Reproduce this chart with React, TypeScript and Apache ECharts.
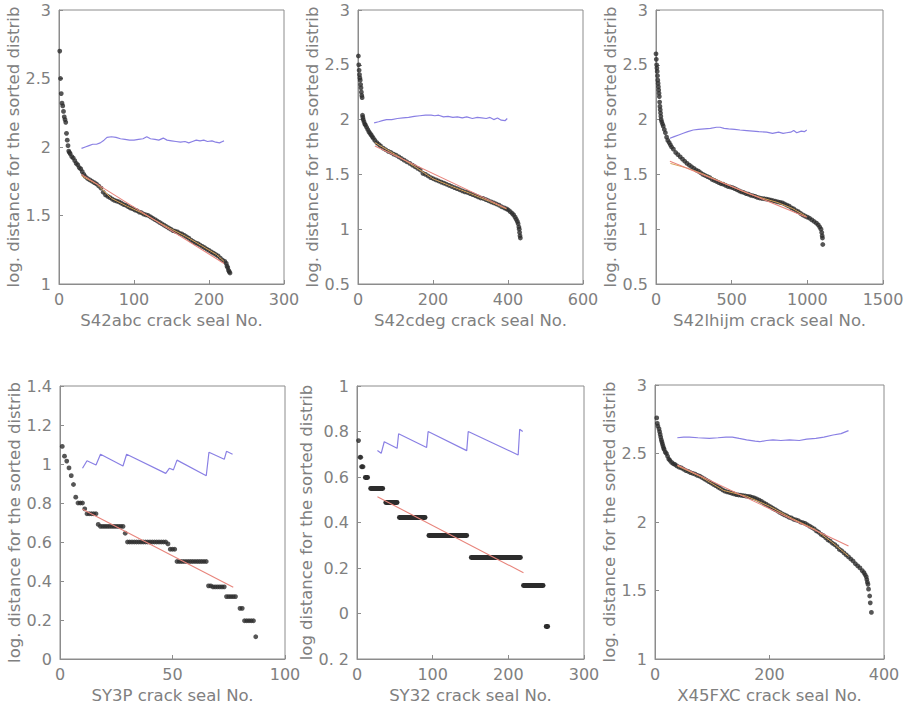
import React, { useEffect, useRef } from "react";
import * as echarts from "echarts";

const X_NAMES = [
  "S42abc crack seal No.",
  "S42cdeg crack seal No.",
  "S42lhijm crack seal No.",
  "SY3P crack seal No.",
  "SY32 crack seal No.",
  "X45FXC crack seal No.",
];
const Y_NAMES = [
  "log. distance for the sorted distrib",
  "log. distance for the sorted distrib",
  "log. distance for the sorted distrib",
  "log. distance for the sorted distrib",
  "log distance for the sorted distrib",
  "log. distance for the sorted distrib",
];
const X_MAX = [300, 600, 1500, 100, 300, 400];
const X_INTERVAL = [100, 200, 500, 50, 100, 200];
const Y_MIN = [1, 0.5, 0.5, 0, -0.2, 1];
const Y_MAX = [3, 3, 3, 1.4, 1, 3];
const Y_INTERVAL = [0.5, 0.5, 0.5, 0.2, 0.2, 0.5];

// Panel 1: S42abc
const P1_DOTS = [
  [1, 2.7], [2, 2.5], [3, 2.39], [4, 2.32], [5, 2.3], [6, 2.26], [7, 2.22], [8, 2.2], [9, 2.18],
  [10, 2.1], [11, 2.05], [12, 2.01], [13, 1.97], [14, 1.96], [15, 1.95], [17, 1.93], [19, 1.92],
  [21, 1.9], [23, 1.88], [25, 1.87], [27, 1.85], [29, 1.84], [31, 1.82], [33, 1.8], [35, 1.785],
  [38, 1.77], [41, 1.76], [44, 1.75], [47, 1.74], [50, 1.73], [53, 1.715], [56, 1.7], [59, 1.67],
  [62, 1.65], [65, 1.64], [68, 1.63], [71, 1.62], [74, 1.61], [77, 1.605], [80, 1.6], [83, 1.59],
  [86, 1.58], [89, 1.575], [92, 1.565], [95, 1.555], [98, 1.55], [101, 1.54], [104, 1.535],
  [107, 1.525], [110, 1.52], [113, 1.51], [116, 1.505], [119, 1.5], [122, 1.49], [125, 1.48],
  [128, 1.47], [131, 1.46], [134, 1.45], [137, 1.44], [140, 1.43], [143, 1.42], [146, 1.41],
  [149, 1.4], [152, 1.39], [155, 1.385], [158, 1.38], [161, 1.37], [164, 1.365], [167, 1.355],
  [170, 1.345], [173, 1.335], [176, 1.32], [179, 1.31], [182, 1.3], [185, 1.295], [188, 1.285],
  [191, 1.275], [194, 1.265], [197, 1.255], [200, 1.245], [203, 1.235], [206, 1.225], [209, 1.215],
  [212, 1.205], [215, 1.19], [218, 1.175], [221, 1.165], [223, 1.15], [224, 1.13], [225, 1.12],
  [226, 1.1], [227, 1.09], [228, 1.08],
];
const P1_FIT = [[30, 1.8], [220, 1.15]];
const P1_SMOOTH = [
  [30, 1.79], [50, 1.73], [70, 1.625], [90, 1.57], [110, 1.52], [130, 1.46], [150, 1.4],
  [170, 1.345], [190, 1.28], [210, 1.215], [220, 1.165],
];
const P1_TREND = [
  [30, 1.99], [35, 2.0], [40, 2.01], [45, 2.02], [50, 2.02], [55, 2.03], [60, 2.05], [64, 2.07],
  [70, 2.075], [76, 2.07], [82, 2.06], [88, 2.055], [94, 2.05], [100, 2.05], [106, 2.055],
  [112, 2.06], [117, 2.075], [122, 2.06], [128, 2.055], [133, 2.05], [139, 2.065], [144, 2.05],
  [150, 2.045], [156, 2.04], [162, 2.035], [168, 2.04], [173, 2.03], [178, 2.04], [183, 2.05],
  [188, 2.045], [193, 2.05], [198, 2.04], [204, 2.045], [209, 2.035], [214, 2.03], [218, 2.04],
  [220, 2.045],
];

// Panel 2: S42cdeg
const P2_DOTS = [
  [1, 2.58], [2, 2.5], [3, 2.45], [4, 2.41], [5, 2.38], [6, 2.36], [7, 2.32], [8, 2.29], [9, 2.25],
  [10, 2.22], [11, 2.2], [12, 2.04], [13, 2.02], [14, 2.0], [16, 1.98], [18, 1.96], [20, 1.95],
  [23, 1.93], [26, 1.91], [29, 1.89], [32, 1.875], [35, 1.86], [38, 1.845], [41, 1.83], [45, 1.81],
  [50, 1.79], [55, 1.775], [60, 1.76], [67, 1.74], [74, 1.725], [81, 1.71], [88, 1.7], [95, 1.685],
  [102, 1.675], [109, 1.66], [116, 1.645], [123, 1.63], [130, 1.615], [138, 1.6], [145, 1.585],
  [152, 1.57], [159, 1.555], [166, 1.54], [173, 1.51], [180, 1.5], [187, 1.485], [194, 1.47],
  [201, 1.46], [208, 1.45], [215, 1.44], [222, 1.43], [229, 1.42], [236, 1.41], [243, 1.4],
  [250, 1.39], [257, 1.38], [264, 1.37], [271, 1.36], [278, 1.35], [285, 1.34], [292, 1.335],
  [299, 1.325], [306, 1.315], [313, 1.305], [320, 1.295], [327, 1.285], [334, 1.28], [341, 1.27],
  [348, 1.26], [355, 1.25], [362, 1.24], [369, 1.23], [376, 1.22], [383, 1.205], [390, 1.195],
  [396, 1.185], [401, 1.175], [406, 1.16], [411, 1.145], [415, 1.13], [419, 1.11], [422, 1.09],
  [425, 1.07], [427, 1.05], [429, 1.02], [430, 1.0], [431, 0.97], [432, 0.94], [433, 0.92],
];
const P2_FIT = [[45, 1.76], [396, 1.19]];
const P2_SMOOTH = [
  [45, 1.79], [100, 1.68], [150, 1.575], [200, 1.46], [250, 1.39], [300, 1.325], [350, 1.255],
  [396, 1.185],
];
const P2_TREND = [
  [43, 1.97], [55, 1.98], [65, 1.99], [76, 2.0], [90, 2.0], [105, 2.01], [120, 2.015], [135, 2.02],
  [150, 2.03], [165, 2.035], [180, 2.04], [195, 2.04], [205, 2.035], [215, 2.04], [228, 2.025],
  [240, 2.03], [253, 2.02], [265, 2.025], [278, 2.015], [290, 2.025], [305, 2.01], [318, 2.02],
  [330, 2.015], [342, 2.01], [352, 2.02], [362, 2.0], [372, 2.015], [382, 1.995], [392, 1.99],
  [398, 2.01],
];

// Panel 3: S42lhijm
const P3_DOTS = [
  [0, 2.6], [2, 2.55], [4, 2.5], [6, 2.47], [8, 2.44], [10, 2.4], [12, 2.36], [14, 2.33], [16, 2.3],
  [18, 2.27], [20, 2.24], [22, 2.21], [24, 2.16], [26, 2.12], [28, 2.09], [30, 2.06], [32, 2.03],
  [34, 2.0], [38, 1.98], [43, 1.96], [48, 1.94], [55, 1.91], [62, 1.88], [70, 1.84], [78, 1.81],
  [87, 1.79], [95, 1.77], [103, 1.75], [115, 1.73], [130, 1.7], [145, 1.68], [160, 1.66],
  [175, 1.64], [190, 1.62], [205, 1.6], [220, 1.585], [235, 1.57], [250, 1.555], [265, 1.54],
  [280, 1.53], [295, 1.515], [310, 1.5], [325, 1.49], [340, 1.48], [355, 1.47], [370, 1.455],
  [385, 1.445], [400, 1.435], [415, 1.425], [430, 1.415], [445, 1.41], [460, 1.4], [475, 1.39],
  [490, 1.385], [505, 1.38], [520, 1.37], [535, 1.36], [550, 1.35], [565, 1.34], [580, 1.335],
  [595, 1.325], [610, 1.32], [625, 1.31], [640, 1.305], [655, 1.3], [670, 1.29], [685, 1.285],
  [700, 1.28], [715, 1.278], [730, 1.275], [745, 1.27], [760, 1.265], [775, 1.26], [790, 1.255],
  [805, 1.25], [820, 1.245], [835, 1.24], [850, 1.23], [865, 1.22], [880, 1.21], [895, 1.195],
  [910, 1.185], [925, 1.17], [940, 1.16], [955, 1.145], [970, 1.13], [985, 1.12], [1000, 1.11],
  [1015, 1.1], [1030, 1.085], [1045, 1.07], [1060, 1.055], [1072, 1.04], [1082, 1.02],
  [1090, 1.0], [1095, 0.97], [1098, 0.94], [1100, 0.92], [1102, 0.86],
];
const P3_FIT = [[92, 1.62], [996, 1.11]];
const P3_SMOOTH = [
  [95, 1.6], [200, 1.56], [300, 1.51], [400, 1.45], [500, 1.39], [600, 1.33], [700, 1.285],
  [800, 1.245], [900, 1.19], [996, 1.115],
];
const P3_TREND = [
  [92, 1.83], [120, 1.845], [150, 1.86], [180, 1.875], [210, 1.89], [246, 1.905], [280, 1.91],
  [320, 1.915], [360, 1.92], [400, 1.93], [423, 1.93], [450, 1.92], [480, 1.915], [520, 1.91],
  [555, 1.905], [600, 1.9], [640, 1.895], [680, 1.89], [731, 1.885], [770, 1.875], [810, 1.885],
  [840, 1.875], [863, 1.88], [890, 1.885], [910, 1.9], [930, 1.88], [960, 1.895], [980, 1.89],
  [996, 1.905],
];

// Panel 4: SY3P
const P4_DOTS = [
  [1, 1.09], [2, 1.04], [3, 1.015], [4, 0.98], [5, 0.94], [6, 0.895], [7, 0.83], [8, 0.8], [9, 0.8],
  [10, 0.8], [11, 0.77], [12, 0.745], [13, 0.745], [14, 0.745], [15, 0.745], [16, 0.745],
  [17, 0.69], [18, 0.68], [19, 0.68], [20, 0.68], [21, 0.68], [22, 0.68], [23, 0.68], [24, 0.68],
  [25, 0.68], [26, 0.68], [27, 0.68], [28, 0.68], [29, 0.645], [30, 0.6], [31, 0.6], [32, 0.6],
  [33, 0.6], [34, 0.6], [35, 0.6], [36, 0.6], [37, 0.6], [38, 0.6], [39, 0.6], [40, 0.6], [41, 0.6],
  [42, 0.6], [43, 0.6], [44, 0.6], [45, 0.6], [46, 0.6], [47, 0.6], [48, 0.59], [49, 0.563],
  [50, 0.563], [51, 0.563], [52, 0.5], [53, 0.5], [54, 0.5], [55, 0.5], [56, 0.5], [57, 0.5],
  [58, 0.5], [59, 0.5], [60, 0.5], [61, 0.5], [62, 0.5], [63, 0.5], [64, 0.5], [65, 0.5],
  [66, 0.375], [67, 0.375], [68, 0.37], [69, 0.37], [70, 0.37], [71, 0.37], [72, 0.37], [73, 0.37],
  [74, 0.32], [75, 0.32], [76, 0.32], [77, 0.32], [78, 0.32], [80, 0.26], [81, 0.26], [82, 0.196],
  [83, 0.196], [84, 0.196], [85, 0.196], [86, 0.196], [87, 0.114],
];
const P4_FIT = [[10, 0.768], [77, 0.368]];
const P4_TREND = [
  [10, 0.978], [12, 1.017], [16, 0.995], [18, 1.05], [28, 0.99], [29.6, 1.05], [47, 0.952],
  [48.6, 0.978], [50.4, 0.97], [52, 1.02], [65, 0.94], [66.2, 1.06], [73, 1.024], [74, 1.065],
  [76.7, 1.05],
];

// Panel 5: SY32
const P5_DOTS = [[2, 0.76], [4, 0.687], [5, 0.687], [6, 0.645], [7, 0.645], [8, 0.645]];
// runs of equal values: [first No., last No., value]
const P5_RUNS = [
  [11, 14, 0.598], [18, 34, 0.55], [38, 53, 0.489], [56, 90, 0.424], [95, 145, 0.344],
  [151, 216, 0.247], [220, 246, 0.122], [250, 252, -0.055],
];
const P5_FIT = [[27, 0.513], [220, 0.179]];
const P5_TREND = [
  [27, 0.716], [32, 0.704], [36, 0.755], [53, 0.726], [55, 0.79], [92, 0.73], [94, 0.8],
  [145, 0.716], [147, 0.8], [213, 0.697], [215, 0.81], [219, 0.8],
];

// Panel 6: X45FXC
const P6_DOTS = [
  [3, 2.76], [4, 2.72], [5, 2.7], [7, 2.68], [8, 2.66], [9, 2.64], [10, 2.62], [11, 2.6],
  [12, 2.585], [13, 2.57], [14, 2.555], [15, 2.54], [16, 2.53], [18, 2.51], [20, 2.5], [22, 2.48],
  [24, 2.46], [26, 2.45], [29, 2.435], [32, 2.425], [35, 2.42], [38, 2.41], [42, 2.4], [46, 2.395],
  [50, 2.385], [54, 2.375], [58, 2.37], [62, 2.36], [66, 2.355], [70, 2.35], [74, 2.34],
  [78, 2.335], [82, 2.325], [86, 2.315], [90, 2.305], [94, 2.295], [98, 2.285], [102, 2.275],
  [106, 2.265], [110, 2.255], [114, 2.245], [118, 2.235], [122, 2.225], [126, 2.22], [130, 2.215],
  [134, 2.21], [138, 2.205], [142, 2.2], [146, 2.197], [150, 2.195], [154, 2.192], [158, 2.19],
  [162, 2.187], [166, 2.185], [170, 2.18], [174, 2.175], [178, 2.168], [182, 2.16], [186, 2.15],
  [190, 2.14], [194, 2.13], [198, 2.12], [202, 2.11], [206, 2.1], [210, 2.09], [214, 2.08],
  [218, 2.07], [222, 2.06], [226, 2.052], [230, 2.045], [234, 2.035], [238, 2.03], [242, 2.02],
  [246, 2.015], [250, 2.01], [254, 2.0], [258, 1.995], [262, 1.99], [266, 1.98], [270, 1.97],
  [274, 1.96], [278, 1.95], [282, 1.935], [286, 1.925], [290, 1.91], [294, 1.9], [298, 1.885],
  [302, 1.87], [306, 1.86], [310, 1.845], [314, 1.835], [318, 1.82], [322, 1.8], [326, 1.79],
  [330, 1.775], [334, 1.76], [338, 1.745], [342, 1.73], [346, 1.715], [350, 1.695], [354, 1.68],
  [358, 1.665], [362, 1.645], [365, 1.63], [367, 1.615], [369, 1.6], [370, 1.58], [371, 1.56],
  [372, 1.545], [373, 1.51], [375, 1.46], [376, 1.41], [378, 1.34],
];
const P6_FIT = [[39, 2.416], [338, 1.825]];
const P6_SMOOTH = [
  [39, 2.41], [80, 2.33], [120, 2.23], [160, 2.188], [200, 2.115], [240, 2.025], [280, 1.945],
  [310, 1.85], [338, 1.75],
];
const P6_TREND = [
  [39, 2.615], [50, 2.62], [60, 2.62], [75, 2.615], [95, 2.61], [110, 2.615], [124, 2.62],
  [135, 2.62], [147, 2.61], [160, 2.6], [175, 2.59], [183, 2.586], [195, 2.595], [206, 2.6],
  [220, 2.595], [235, 2.6], [252, 2.595], [265, 2.605], [281, 2.61], [295, 2.62], [311, 2.635],
  [325, 2.645], [338, 2.667],
];

const DOTS = [P1_DOTS, P2_DOTS, P3_DOTS, P4_DOTS, P5_DOTS, P6_DOTS];
const FITS = [P1_FIT, P2_FIT, P3_FIT, P4_FIT, P5_FIT, P6_FIT];
const SMOOTHS = [P1_SMOOTH, P2_SMOOTH, P3_SMOOTH, null, null, P6_SMOOTH];
const TRENDS = [P1_TREND, P2_TREND, P3_TREND, P4_TREND, P5_TREND, P6_TREND];

const GRIDS = [
  { left: 59, top: 10, width: 225, height: 274, yGap: 32 },
  { left: 358, top: 10, width: 225, height: 274, yGap: 32 },
  { left: 656, top: 10, width: 227, height: 274, yGap: 32 },
  { left: 60, top: 386, width: 225, height: 273, yGap: 33 },
  { left: 357, top: 386, width: 227, height: 273, yGap: 35 },
  { left: 655, top: 385, width: 229, height: 274, yGap: 31 },
];

const FONT = "'DejaVu Sans', sans-serif";
const TEXT_COLOR = "#808080";
const AXIS_COLOR = "#8c8c8c";
const DOT_COLOR = "#2c2c2c";

function fmtY(v: number) {
  if (v < -0.1) return "0. 2";
  return String(Math.round(v * 10) / 10);
}
function fmtX(v: number) {
  return String(Math.round(v));
}

export default function App() {
  const ref = useRef<HTMLDivElement>(null);
  useEffect(() => {
    if (!ref.current) return;
    const chart = echarts.init(ref.current, undefined, { renderer: "svg" });
    const grid: any[] = [];
    const xAxis: any[] = [];
    const yAxis: any[] = [];
    const series: any[] = [];
    GRIDS.forEach((g, i) => {
      grid.push({
        left: g.left, top: g.top, width: g.width, height: g.height,
        show: true, borderColor: AXIS_COLOR, borderWidth: 1, backgroundColor: "transparent",
      });
      const labelStyle = { color: TEXT_COLOR, fontSize: 16, fontFamily: FONT, fontWeight: "normal" };
      xAxis.push({
        type: "value", gridIndex: i, min: 0, max: X_MAX[i], interval: X_INTERVAL[i],
        name: X_NAMES[i], nameLocation: "middle", nameGap: 28,
        nameTextStyle: { ...labelStyle, fontSize: 16.5 },
        axisLine: { show: true, onZero: false, lineStyle: { color: AXIS_COLOR, width: 1 } },
        axisTick: { show: true, inside: true, length: 4, lineStyle: { color: AXIS_COLOR } },
        axisLabel: { ...labelStyle, margin: 7, formatter: fmtX },
        splitLine: { show: false },
      });
      yAxis.push({
        type: "value", gridIndex: i, min: Y_MIN[i], max: Y_MAX[i], interval: Y_INTERVAL[i],
        name: Y_NAMES[i], nameLocation: "middle", nameGap: g.yGap,
        nameTextStyle: { ...labelStyle, fontSize: 16.5 },
        axisLine: { show: true, onZero: false, lineStyle: { color: AXIS_COLOR, width: 1 } },
        axisTick: { show: true, inside: true, length: 4, lineStyle: { color: AXIS_COLOR } },
        axisLabel: { ...labelStyle, margin: 8, formatter: fmtY },
        splitLine: { show: false },
      });
      series.push({
        type: "scatter", xAxisIndex: i, yAxisIndex: i, data: DOTS[i],
        symbol: "circle", symbolSize: 4.8, itemStyle: { color: DOT_COLOR }, silent: true, z: 2,
      });
      if (i === 4) {
        series.push({
          type: "lines", coordinateSystem: "cartesian2d", xAxisIndex: i, yAxisIndex: i,
          data: P5_RUNS.map((r) => ({ coords: [[r[0], r[2]], [r[1], r[2]]] })),
          lineStyle: { color: DOT_COLOR, width: 4.8, cap: "round", opacity: 1 },
          silent: true, z: 2,
        });
      }
      if (SMOOTHS[i]) {
        series.push({
          type: "line", xAxisIndex: i, yAxisIndex: i, data: SMOOTHS[i], showSymbol: false,
          lineStyle: { color: "#d9a35a", width: 1 }, silent: true, z: 3,
        });
      }
      series.push({
        type: "line", xAxisIndex: i, yAxisIndex: i, data: FITS[i], showSymbol: false,
        lineStyle: { color: "#e8857c", width: 1.1 }, silent: true, z: 4,
      });
      series.push({
        type: "line", xAxisIndex: i, yAxisIndex: i, data: TRENDS[i], showSymbol: false,
        lineStyle: { color: "#8a80e4", width: 1.2 }, silent: true, z: 4,
      });
    });
    chart.setOption({
      animation: false,
      backgroundColor: "#ffffff",
      grid, xAxis, yAxis, series,
    });
    return () => chart.dispose();
  }, []);
  return (
    <div
      ref={ref}
      style={{ position: "fixed", left: 0, top: 0, width: 908, height: 712, background: "#fff" }}
    />
  );
}
